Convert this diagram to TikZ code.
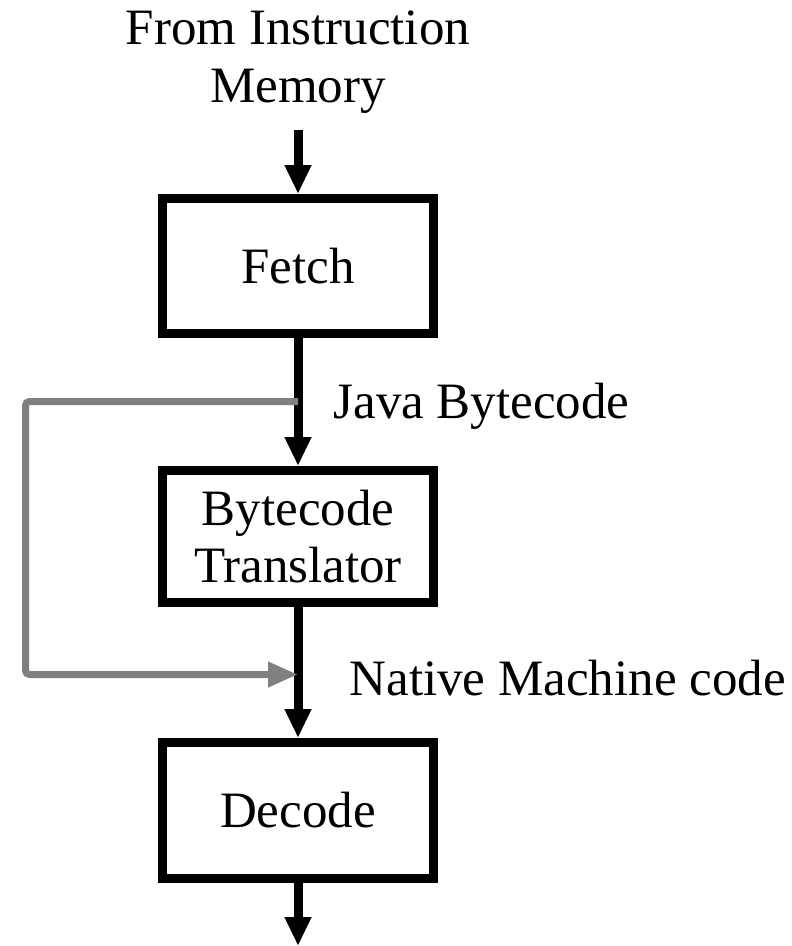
\documentclass[tikz,border=0pt]{standalone}
\usepackage{fontspec}
\setmainfont{Liberation Serif}
\usetikzlibrary{arrows.meta,positioning}

\begin{document}
\begin{tikzpicture}[
                x=1pt,y=-1pt,
                stage/.style={rectangle,draw=black,line width=9pt,align=center,
                    minimum width=271pt,font=\fontsize{51}{57}\selectfont,inner sep=0pt},
                flow/.style={line width=9pt,-{Triangle[width=25pt,length=29pt]}},
                bypass/.style={line width=7pt,draw=black!50,rounded corners=4pt,
                    -{Triangle[width=24pt,length=30pt]}},
                lbl/.style={font=\fontsize{51}{58}\selectfont,align=center},
            ]
                \useasboundingbox (0,0) rectangle (792,946);

                % Title
                \node[lbl] (src) at (298,62) {From Instruction\\Memory};
                \coordinate (top) at (298,130);
                \coordinate (bottom) at (298,946);

                %% Pipeline stages
                \node[stage,minimum height=135pt] (fetch) at (298,266) {Fetch};
                \node[stage,minimum height=132pt] (trans) at (298,536.5) {Bytecode\\Translator};
                \node[stage,minimum height=136pt] (decode) at (298,810.5) {Decode};

                % Main flow
                \draw[flow] (top) -- (fetch.north);
                \draw[flow] (fetch.south) -- (trans.north);
                \draw[flow] (trans.south) -- (decode.north);
                \draw[flow] (decode.south) -- (bottom);

                % Labels on the flow
                \coordinate (split) at (298,401.5);
                \coordinate (merge) at (298,674.5);
                \node[lbl,anchor=west] (jbc) at (330,406) {Java Bytecode};
                \node[lbl,anchor=west] (nmc) at (346,678) {Native Machine code};

                % Bypass of the translator
                \draw[bypass] (split) -- ++(-272.5,0) |- (merge);

            \end{tikzpicture}
\end{document}
